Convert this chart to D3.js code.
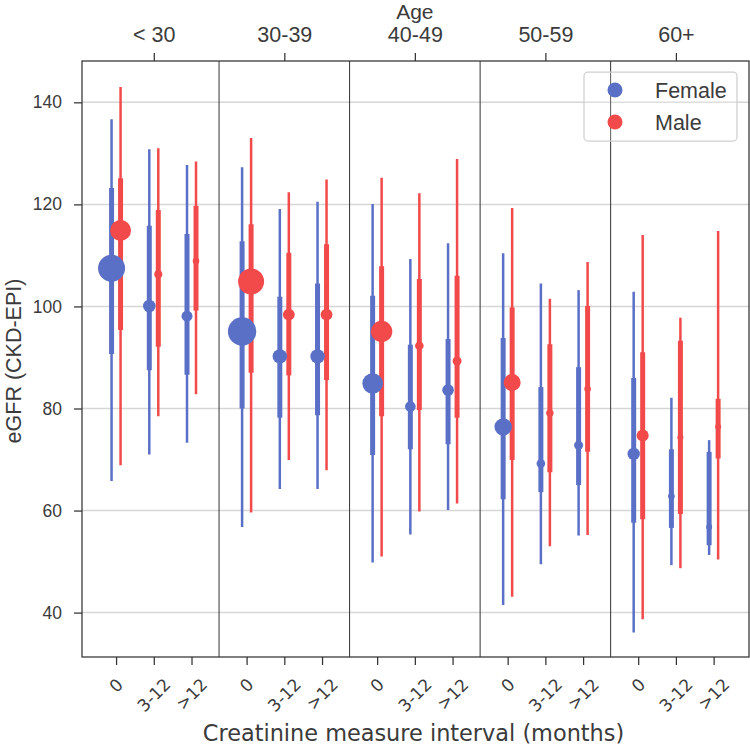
<!DOCTYPE html>
<html>
<head>
  <script src="https://d3js.org/d3.v7.min.js"></script>
  <style>
    body { margin: 0; background: #fff; }
    svg { display: block; }
  </style>
</head>
<body>
<script>
  // categories
  var ageGroups = ["< 30", "30-39", "40-49", "50-59", "60+"];
  var intervals = ["0", "3-12", ">12"];
  var sexes = ["Female", "Male"];
  var yTicks = [40, 60, 80, 100, 120, 140];

  // values listed age group by age group, each with intervals 0, 3-12, >12
  var femaleMedian = [107.5, 100.1, 98.1, 95.1, 90.2, 90.2, 84.9, 80.4, 83.6, 76.4, 69.2, 72.8, 71.1, 62.8, 56.8];
  var femaleQ1     = [90.7, 87.5, 86.6, 80.0, 78.2, 78.7, 70.9, 72.0, 73.0, 62.2, 63.6, 65.0, 57.6, 56.6, 53.2];
  var femaleQ3     = [123.2, 115.8, 114.2, 112.8, 101.9, 104.5, 102.1, 92.5, 93.6, 93.8, 84.2, 88.1, 86.0, 72.0, 71.5];
  var femaleLow    = [65.8, 71.0, 73.3, 56.8, 64.2, 64.2, 49.8, 55.3, 60.1, 41.5, 49.5, 55.1, 36.1, 49.3, 51.3];
  var femaleHigh   = [136.7, 130.8, 127.7, 127.3, 119.1, 120.5, 120.1, 109.3, 112.4, 110.4, 104.5, 103.2, 102.9, 82.1, 73.8];
  var femaleN      = [1820, 397, 302, 2016, 518, 518, 1061, 281, 336, 757, 185, 202, 384, 109, 90];

  var maleMedian = [114.9, 106.3, 108.9, 104.9, 98.4, 98.4, 95.1, 92.3, 89.3, 85.1, 79.1, 83.8, 74.7, 74.3, 76.4];
  var maleQ1     = [95.4, 92.1, 99.2, 87.0, 86.5, 85.6, 78.5, 79.7, 78.2, 69.9, 67.5, 71.5, 58.3, 59.3, 70.2];
  var maleQ3     = [125.1, 118.9, 119.7, 116.1, 110.5, 112.2, 107.9, 105.4, 106.0, 99.8, 92.6, 100.1, 91.0, 93.3, 81.9];
  var maleLow    = [68.9, 78.5, 82.8, 59.6, 69.9, 67.9, 51.0, 59.8, 61.4, 43.1, 53.0, 55.2, 38.7, 48.7, 50.4];
  var maleHigh   = [143.0, 131.0, 128.4, 133.0, 122.4, 124.9, 125.2, 122.2, 128.9, 119.3, 101.5, 108.7, 114.0, 97.8, 114.8];
  var maleN      = [1102, 160, 109, 1690, 348, 348, 1145, 185, 202, 722, 137, 109, 360, 90, 90];

  var colors = { Female: "#5a70c7", Male: "#f24a4b" };

  // build rows
  var rows = [];
  sexes.forEach(function (s) {
    var src = s == "Female"
      ? [femaleMedian, femaleQ1, femaleQ3, femaleLow, femaleHigh, femaleN]
      : [maleMedian, maleQ1, maleQ3, maleLow, maleHigh, maleN];
    src[0].forEach(function (m, i) {
      rows.push({
        sex: s, group: Math.floor(i / 3), k: i % 3,
        median: m, q1: src[1][i], q3: src[2][i], lo: src[3][i], hi: src[4][i], n: src[5][i]
      });
    });
  });

  var margin = { top: 61, right: 1, bottom: 90, left: 82 },
    width = 750 - margin.left - margin.right,
    height = 747 - margin.top - margin.bottom;

  var subStep = 0.289, dodge = 4.5;
  var x = d3.scaleLinear().domain([-0.55, 4.56]).range([0, width]);
  var y = d3.scaleLinear().domain([31.3, 148.1]).range([height, 0]);
  var r = d3.scaleSqrt().domain([0, 2000]).range([0, Math.sqrt(200)]);
  function xPos(d) {
    return x(d.group + (d.k - 1) * subStep) + (d.sex == "Female" ? -dodge : dodge);
  }

  var svg = d3.select("body").append("svg")
    .attr("width", 750).attr("height", 747)
    .append("g").attr("transform", "translate(" + margin.left + "," + margin.top + ")");

  var textCol = "#3b3b3b", spineCol = "#333";

  // grid
  svg.append("g").selectAll("line").data(yTicks).join("line")
    .attr("x1", 0).attr("x2", width)
    .attr("y1", function (d) { return y(d); }).attr("y2", function (d) { return y(d); })
    .attr("stroke", "#d6d6d6").attr("stroke-width", 1.5);

  // group separators
  svg.append("g").selectAll("line").data([0.5, 1.5, 2.5, 3.5]).join("line")
    .attr("x1", function (d) { return x(d); }).attr("x2", function (d) { return x(d); })
    .attr("y1", 0).attr("y2", height)
    .attr("stroke", spineCol).attr("stroke-width", 1);

  // y axis
  var yAxis = svg.append("g").call(d3.axisLeft(y).tickValues(yTicks).tickSize(8).tickPadding(12));
  yAxis.select(".domain").remove();
  yAxis.selectAll(".tick line").attr("stroke", spineCol).attr("stroke-width", 1.25);
  yAxis.selectAll(".tick text").attr("fill", textCol)
    .attr("font-family", "Liberation Sans, Arial, sans-serif").attr("font-size", 17.5);

  // top axis with age groups
  var topAxis = svg.append("g").call(d3.axisTop(x).tickValues([0, 1, 2, 3, 4])
    .tickFormat(function (i) { return ageGroups[i]; }).tickSize(8).tickPadding(11));
  topAxis.select(".domain").remove();
  topAxis.selectAll(".tick line").attr("stroke", spineCol).attr("stroke-width", 1.25);
  topAxis.selectAll(".tick text").attr("fill", textCol)
    .attr("font-family", "Liberation Sans, Arial, sans-serif").attr("font-size", 21.5);

  svg.append("text").text("Age")
    .attr("x", x(2)).attr("y", 19 - margin.top)
    .attr("text-anchor", "middle").attr("fill", textCol)
    .attr("font-family", "Liberation Sans, Arial, sans-serif").attr("font-size", 21);

  // bottom axis with intervals
  var bottomTicks = [];
  ageGroups.forEach(function (a, g) {
    intervals.forEach(function (lab, k) {
      bottomTicks.push({ pos: g + (k - 1) * subStep, label: lab });
    });
  });
  var botAxis = svg.append("g").attr("transform", "translate(0," + height + ")")
    .call(d3.axisBottom(x).tickValues(bottomTicks.map(function (d) { return d.pos; }))
      .tickFormat("").tickSize(8));
  botAxis.select(".domain").remove();
  botAxis.selectAll(".tick line").attr("stroke", spineCol).attr("stroke-width", 1.25);

  var xl = svg.append("g");
  bottomTicks.forEach(function (p) {
    var t = xl.append("text").text(p.label)
      .attr("font-family", "DejaVu Sans, sans-serif").attr("font-size", 17)
      .attr("fill", textCol).attr("text-anchor", "middle").attr("dy", "0.36em");
    var w = t.node().getComputedTextLength();
    var b = (w + 17 * 0.73) / Math.SQRT2;
    var cx = x(p.pos), cy = 677 - margin.top + b / 2;
    t.attr("x", cx).attr("y", cy).attr("transform", "rotate(-45," + cx + "," + cy + ")");
  });

  svg.append("text").text("Creatinine measure interval (months)")
    .attr("x", width / 2 - 2).attr("y", 741 - margin.top)
    .attr("text-anchor", "middle").attr("fill", textCol)
    .attr("font-family", "DejaVu Sans, sans-serif").attr("font-size", 22.4);

  svg.append("text").text("eGFR (CKD-EPI)")
    .attr("transform", "translate(" + (21 - margin.left) + "," + (361 - margin.top) + ") rotate(-90)")
    .attr("text-anchor", "middle").attr("fill", textCol)
    .attr("font-family", "Liberation Sans, Arial, sans-serif").attr("font-size", 21.5);

  // whiskers and interquartile bars
  var marks = svg.append("g");
  marks.selectAll("line.thin").data(rows).join("line").attr("class", "thin")
    .attr("x1", xPos).attr("x2", xPos)
    .attr("y1", function (d) { return y(d.lo); }).attr("y2", function (d) { return y(d.hi); })
    .attr("stroke", function (d) { return colors[d.sex]; }).attr("stroke-width", 2.5);
  marks.selectAll("line.thick").data(rows).join("line").attr("class", "thick")
    .attr("x1", xPos).attr("x2", xPos)
    .attr("y1", function (d) { return y(d.q1); }).attr("y2", function (d) { return y(d.q3); })
    .attr("stroke", function (d) { return colors[d.sex]; }).attr("stroke-width", 5);
  marks.selectAll("circle").data(rows).join("circle")
    .attr("cx", xPos).attr("cy", function (d) { return y(d.median); })
    .attr("r", function (d) { return r(d.n); })
    .attr("fill", function (d) { return colors[d.sex]; });

  // frame
  svg.append("rect").attr("width", width).attr("height", height)
    .attr("fill", "none").attr("stroke", spineCol).attr("stroke-width", 1.25);

  // legend
  var lg = svg.append("g").attr("transform", "translate(" + (584 - margin.left) + "," + (72 - margin.top) + ")");
  lg.append("rect").attr("width", 153).attr("height", 69).attr("rx", 4)
    .attr("fill", "#fff").attr("fill-opacity", 0.2)
    .attr("stroke", "#d0d0d0").attr("stroke-width", 1.25);
  sexes.forEach(function (s, i) {
    lg.append("circle").attr("cx", 31).attr("cy", 18 + i * 32).attr("r", 7.5).attr("fill", colors[s]);
    lg.append("text").text(s).attr("x", 71).attr("y", 18 + i * 32).attr("dy", "0.35em")
      .attr("fill", textCol).attr("font-family", "Liberation Sans, Arial, sans-serif").attr("font-size", 21.5);
  });
</script>
</body>
</html>
